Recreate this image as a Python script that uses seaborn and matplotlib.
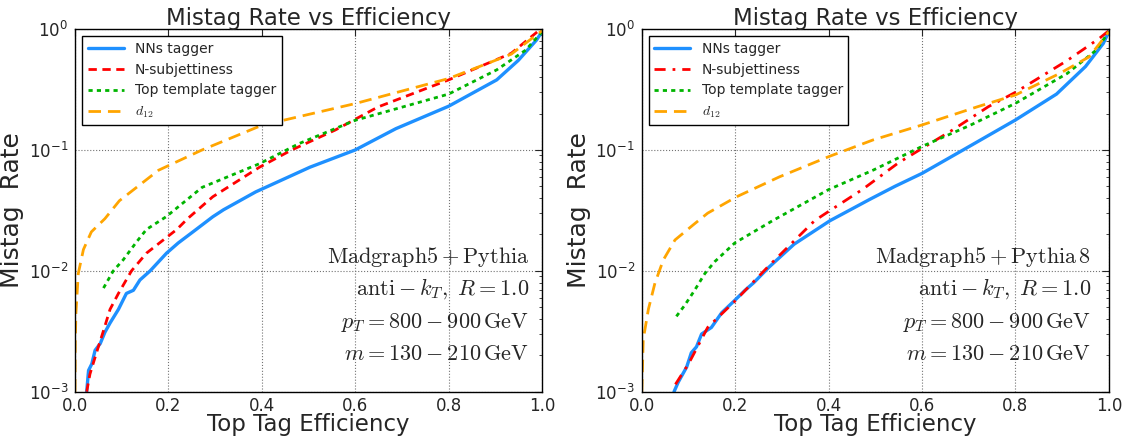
"""Mistag rate vs top tag efficiency for two generator setups."""

import matplotlib

matplotlib.use("Agg")
import matplotlib.pyplot as plt
import seaborn as sns


# left panel: Madgraph5 + Pythia
left_nn_x = [0.025, 0.029, 0.036, 0.043, 0.054, 0.064, 0.075, 0.093, 0.11, 0.125, 0.139, 0.161,
             0.196, 0.221, 0.256, 0.295, 0.318, 0.387, 0.503, 0.6, 0.687, 0.8, 0.903, 0.949, 0.988, 1.0]
left_nn_y = [1e-3, 1.5e-3, 1.7e-3, 2.2e-3, 2.5e-3, 3.1e-3, 3.7e-3, 4.8e-3, 6.5e-3, 6.9e-3, 8.4e-3, 1.0e-2,
             1.4e-2, 1.7e-2, 2.15e-2, 2.8e-2, 3.2e-2, 4.5e-2, 7.2e-2, 0.1, 0.15, 0.23, 0.38, 0.55, 0.81, 0.95]
left_nsub_x = [0.025, 0.032, 0.046, 0.061, 0.075, 0.093, 0.121, 0.153, 0.193, 0.218, 0.241, 0.295,
               0.395, 0.464, 0.557, 0.649, 0.8, 0.934, 0.99]
left_nsub_y = [1e-3, 1.4e-3, 2.1e-3, 3.2e-3, 4.8e-3, 6.5e-3, 1.0e-2, 1.4e-2, 1.85e-2, 2.2e-2, 2.7e-2, 4.1e-2,
               7.2e-2, 0.1, 0.146, 0.227, 0.38, 0.63, 0.95]
left_ttt_x = [0.061, 0.082, 0.103, 0.132, 0.153, 0.195, 0.272, 0.395, 0.48, 0.6, 0.8, 0.903, 0.965, 1.0]
left_ttt_y = [7.2e-3, 1.0e-2, 1.23e-2, 1.74e-2, 2.2e-2, 2.8e-2, 4.9e-2, 7.7e-2, 0.113, 0.176, 0.29, 0.46,
              0.67, 0.95]
left_d12_x = [0.0, 0.0005, 0.002, 0.007, 0.018, 0.035, 0.064, 0.095, 0.179, 0.272, 0.4, 0.6, 0.8, 0.934, 1.0]
left_d12_y = [1e-3, 2.5e-3, 4.5e-3, 9.5e-3, 1.5e-2, 2.1e-2, 2.7e-2, 3.8e-2, 6.8e-2, 0.1, 0.16, 0.242, 0.39,
              0.62, 0.97]

# right panel: Madgraph5 + Pythia 8
right_nn_x = [0.069, 0.078, 0.096, 0.106, 0.117, 0.128, 0.149, 0.171, 0.199, 0.221, 0.24, 0.272, 0.326,
              0.403, 0.488, 0.542, 0.6, 0.688, 0.8, 0.888, 0.95, 0.988, 1.0]
right_nn_y = [1e-3, 1.2e-3, 1.6e-3, 2.1e-3, 2.35e-3, 3.0e-3, 3.4e-3, 4.5e-3, 5.7e-3, 6.9e-3, 8.0e-3, 1.07e-2,
              1.66e-2, 2.6e-2, 3.9e-2, 5.0e-2, 6.4e-2, 0.1, 0.177, 0.29, 0.49, 0.76, 0.95]
right_nsub_x = [0.072, 0.1, 0.141, 0.199, 0.272, 0.37, 0.4, 0.472, 0.549, 0.6, 0.665, 0.742, 0.8, 0.911,
                0.98, 1.0]
right_nsub_y = [1.15e-3, 1.7e-3, 3.4e-3, 5.6e-3, 1.1e-2, 2.6e-2, 3.1e-2, 4.7e-2, 7.8e-2, 0.103, 0.146, 0.228,
                0.30, 0.55, 0.84, 0.97]
right_ttt_x = [0.074, 0.092, 0.113, 0.135, 0.156, 0.199, 0.28, 0.4, 0.495, 0.6, 0.703, 0.8, 0.911, 0.973, 1.0]
right_ttt_y = [4.2e-3, 5.2e-3, 6.9e-3, 9.5e-3, 1.19e-2, 1.7e-2, 2.6e-2, 4.7e-2, 6.8e-2, 0.107, 0.16, 0.243,
               0.43, 0.67, 0.95]
right_d12_x = [0.0, 0.003, 0.014, 0.028, 0.046, 0.071, 0.11, 0.141, 0.203, 0.295, 0.4, 0.495, 0.6, 0.719,
               0.8, 0.895, 0.958, 1.0]
right_d12_y = [1e-3, 2.7e-3, 4.8e-3, 7.9e-3, 1.23e-2, 1.8e-2, 2.4e-2, 3.0e-2, 4.1e-2, 6.0e-2, 8.8e-2, 0.121,
               0.161, 0.228, 0.285, 0.43, 0.59, 0.95]

labels = ["NNs tagger", "N-subjettiness", "Top template tagger", "$d_{12}$"]
left_notes = [r"$\mathrm{Madgraph5+Pythia}$", r"$\mathrm{anti}-k_T,\ R=1.0$",
              r"$p_T=800-900\,\mathrm{GeV}$", r"$m=130-210\,\mathrm{GeV}$"]
right_notes = [r"$\mathrm{Madgraph5+Pythia\,8}$", r"$\mathrm{anti}-k_T,\ R=1.0$",
               r"$p_T=800-900\,\mathrm{GeV}$", r"$m=130-210\,\mathrm{GeV}$"]

COLORS = ["#1e90ff", "#ff0000", "#00b400", "#ffa500"]


def draw_panel(ax, series, nsub_style, notes, note_x):
    styles = ["-", nsub_style, (0, (1.5, 1.5)), (0, (4.5, 2.5))]
    widths = [2.4, 2.0, 2.0, 2.0]
    for (xs, ys), label, color, ls, lw in zip(series, labels, COLORS, styles, widths):
        sns.lineplot(x=xs, y=ys, ax=ax, color=color, linestyle=ls, linewidth=lw,
                     label=label, estimator=None, sort=False)
    ax.set_yscale("log")
    ax.set_xlim(0, 1)
    ax.set_ylim(1e-3, 1)
    ax.set_xticks([0.0, 0.2, 0.4, 0.6, 0.8, 1.0])
    ax.grid(True, which="major", color="0.45", linestyle=":", linewidth=0.8)
    ax.tick_params(which="both", direction="in", top=True, right=True, labelsize=12)
    ax.tick_params(which="major", length=5)
    ax.tick_params(which="minor", length=2.5)
    ax.tick_params(axis="x", pad=3.5)
    ax.tick_params(axis="y", pad=5)
    for spine in ax.spines.values():
        spine.set_color("black")
        spine.set_linewidth(1.0)
    ax.set_title("Mistag Rate vs Efficiency", fontsize=16.5, pad=3)
    ax.set_xlabel("Top Tag Efficiency", fontsize=16.5, labelpad=-1)
    ax.set_ylabel("Mistag  Rate", fontsize=18, labelpad=3)
    leg = ax.legend(loc="upper left", fontsize=10, fancybox=False, edgecolor="black", framealpha=1,
                    handlelength=2.6, borderaxespad=0.5)
    leg.get_frame().set_linewidth(1.0)
    leg.get_texts()[3].set_math_fontfamily("cm")
    for text, y in zip(notes, [0.371, 0.283, 0.192, 0.104]):
        ax.text(note_x, y, text, transform=ax.transAxes, ha="right", va="center", fontsize=16,
                math_fontfamily="cm")


def main():
    sns.set_style("white")
    plt.rcParams["font.family"] = ["DejaVu Sans"]
    fig = plt.figure(figsize=(11.28, 4.37), dpi=100)
    ax_left = fig.add_axes([0.0665, 0.1037, 0.414, 0.8297])
    ax_right = fig.add_axes([0.569, 0.1037, 0.414, 0.8297])

    draw_panel(ax_left,
               [(left_nn_x, left_nn_y), (left_nsub_x, left_nsub_y),
                (left_ttt_x, left_ttt_y), (left_d12_x, left_d12_y)],
               (0, (3, 2)), left_notes, 0.972)
    draw_panel(ax_right,
               [(right_nn_x, right_nn_y), (right_nsub_x, right_nsub_y),
                (right_ttt_x, right_ttt_y), (right_d12_x, right_d12_y)],
               (0, (4, 2.5, 1, 2.5)), right_notes, 0.962)

    fig.savefig("out.png", dpi=100)
    plt.close(fig)


if __name__ == "__main__":
    main()
